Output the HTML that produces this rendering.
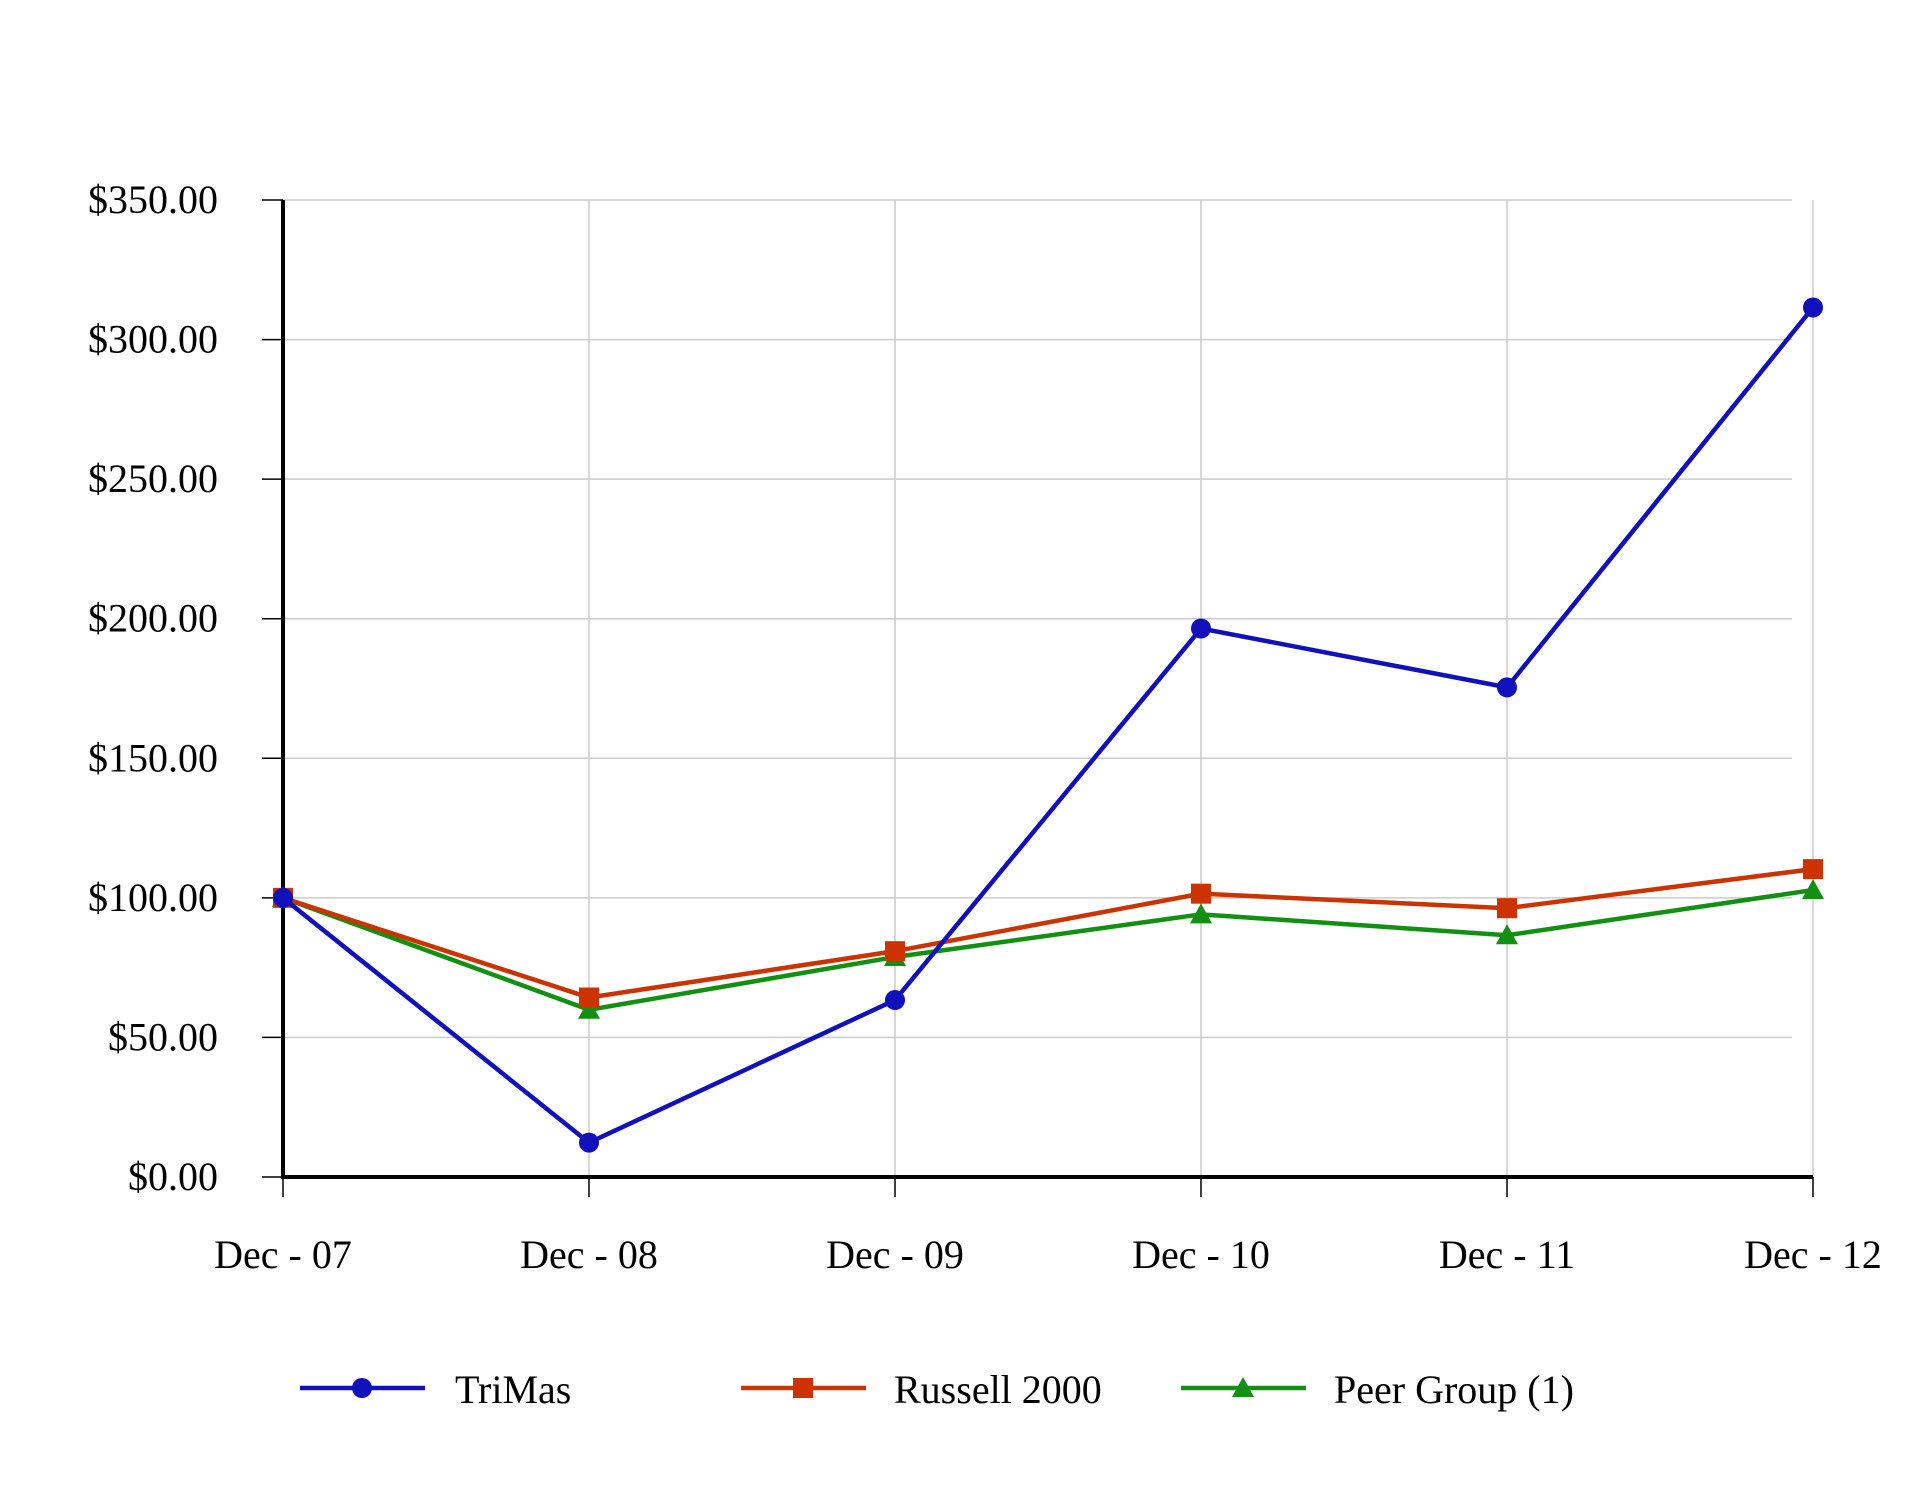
<!DOCTYPE html>
<html><head><meta charset="utf-8"><style>
html,body{margin:0;padding:0;background:#fff;}
svg{display:block;font-family:"Liberation Serif",serif;}
</style></head><body>
<svg id="chart" width="1916" height="1500" viewBox="0 0 1916 1500" xmlns="http://www.w3.org/2000/svg">
<g id="grid"></g>
<g id="axes"></g>
<g id="series"></g>
<g id="legend"></g>
</svg>
<script>
const categories = ["Dec - 07","Dec - 08","Dec - 09","Dec - 10","Dec - 11","Dec - 12"];
const trimas = [100, 12.3, 63.4, 196.5, 175.4, 311.5];
const russell = [100, 64.3, 80.9, 101.5, 96.3, 110.3];
const peer = [100, 59.9, 78.8, 94.1, 86.6, 102.8];
const yTicks = [0,50,100,150,200,250,300,350];
const yTickLabels = ["$0.00","$50.00","$100.00","$150.00","$200.00","$250.00","$300.00","$350.00"];
const seriesNames = ["TriMas","Russell 2000","Peer Group (1)"];

const NS="http://www.w3.org/2000/svg";
const X0=283, XSTEP=306, Y0=1177, YMAX=350, YH=977;
function xPos(i){return X0+i*XSTEP;}
function yPos(v){return Y0-v/YMAX*YH;}
function mk(tag,attrs,parent){const e=document.createElementNS(NS,tag);for(const k in attrs)e.setAttribute(k,attrs[k]);parent.appendChild(e);return e;}
const grid=document.getElementById('grid'),axes=document.getElementById('axes'),ser=document.getElementById('series'),leg=document.getElementById('legend');

yTicks.forEach((t,i)=>{
  if(t>0){const g=mk('line',{x1:X0,x2:1792,y1:yPos(t),y2:yPos(t),stroke:'#cccccc','stroke-width':1.5},grid);
  
  }
  const tk=mk('line',{x1:262,x2:X0,y1:yPos(t),y2:yPos(t),stroke:'#000','stroke-width':1.5},axes);
  
  
  const tx=mk('text',{x:218,y:yPos(t)+13,'text-anchor':'end','font-size':40,fill:'#000'},axes);
  tx.textContent=yTickLabels[i];
  
  
});
categories.forEach((c,i)=>{
  if(i>0){const g=mk('line',{x1:xPos(i),x2:xPos(i),y1:yPos(YMAX),y2:Y0,stroke:'#cccccc','stroke-width':1.5},grid);
  
  }
  const tk=mk('line',{x1:xPos(i),x2:xPos(i),y1:Y0,y2:Y0+20,stroke:'#000','stroke-width':1.5},axes);
  
  
  const tx=mk('text',{x:xPos(i),y:1268,'text-anchor':'middle','font-size':40,fill:'#000'},axes);
  tx.textContent=c;
  
  
});
const ya=mk('line',{x1:X0,x2:X0,y1:yPos(YMAX),y2:Y0+2,stroke:'#000','stroke-width':4},axes);


const xa=mk('line',{x1:X0-2,x2:xPos(5),y1:Y0,y2:Y0,stroke:'#000','stroke-width':4},axes);



function marker(type,x,y,color,parent){
  let e;
  if(type==='circle') e=mk('circle',{cx:x,cy:y,r:10,fill:color},parent);
  else if(type==='square') e=mk('rect',{x:x-10,y:y-10,width:20,height:20,fill:color},parent);
  else e=mk('polygon',{points:`${x},${y-11} ${x+11},${y+9} ${x-11},${y+9}`,fill:color},parent);
  return e;
}
const defs=[[peer,'#119011','triangle','peer-group'],[russell,'#cc3300','square','russell-2000'],[trimas,'#1111bb','circle','trimas']];
defs.forEach(([data,color,m,name])=>{
  const pts=data.map((v,i)=>xPos(i)+','+yPos(v)).join(' ');
  const pl=mk('polyline',{points:pts,fill:'none',stroke:color,'stroke-width':4.5},ser);
  
  
  data.forEach((v,i)=>{const mm=marker(m,xPos(i),yPos(v),color,ser);
    
    });
});
const legItems=[[300,'#1111bb','circle',455],[741,'#cc3300','square',894],[1181,'#119011','triangle',1334]];
legItems.forEach(([lx,color,m,tx],i)=>{
  const l=mk('line',{x1:lx,x2:lx+125,y1:1388,y2:1388,stroke:color,'stroke-width':4.5},leg);
  
  
  const mm=marker(m,lx+62,1388,color,leg);
  
  
  const t=mk('text',{x:tx,y:1403,'font-size':40,fill:'#000'},leg);
  t.textContent=seriesNames[i];
  
  
});
</script>
</body></html>
